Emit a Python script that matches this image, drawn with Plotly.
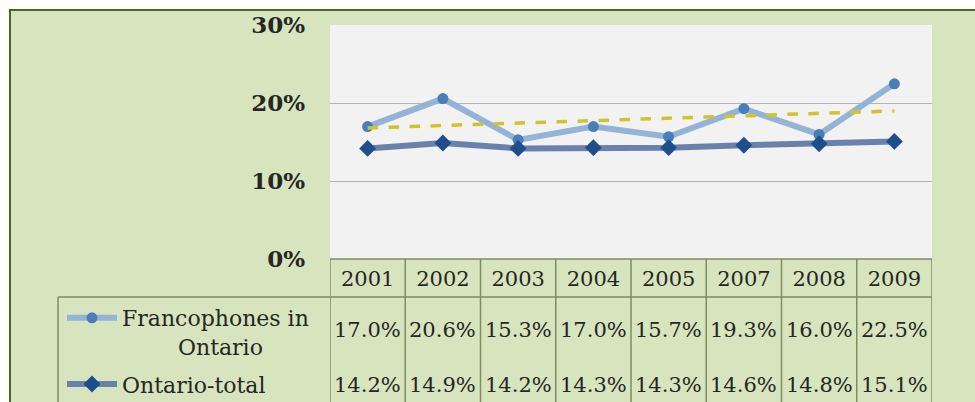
import numpy as np
import plotly.graph_objects as go

years = ["2001", "2002", "2003", "2004", "2005", "2007", "2008", "2009"]
franco = [17.0, 20.6, 15.3, 17.0, 15.7, 19.3, 16.0, 22.5]
ontario = [14.2, 14.9, 14.2, 14.3, 14.3, 14.6, 14.8, 15.1]
y_ticks = [0, 10, 20, 30]
y_labels = [f"{v}%" for v in y_ticks]

W, H = 975, 402
L, R, T, B = 330, 43, 25, 143
pw, ph = W - L - R, H - T - B


def px_x(px):
    # pixel -> paper x
    return (px - L) / pw


def px_y(py):
    # pixel -> paper y
    return (H - B - py) / ph


# Excel-style linear trendline of the Francophones series
idx = np.arange(len(years))
slope, icpt = np.polyfit(idx, franco, 1)
trend = slope * idx + icpt

FONT = "DejaVu Serif"
GRID = "#b4b4b4"
TBL = "#7f8c60"
TXT = "#262626"
NB = "\u00a0"

fig = go.Figure()
fig.add_trace(go.Scatter(
    x=years, y=franco, mode="lines+markers", legendgroup="a",
    name="Francophones in<br>" + NB * 8 + "Ontario",
    line=dict(color="#95b3d7", width=6),
    marker=dict(symbol="circle", size=11, color="#4a7ebb"),
))
fig.add_trace(go.Scatter(
    x=years, y=ontario, mode="lines+markers", name="Ontario-total", legendgroup="b",
    line=dict(color="#6a80ad", width=6),
    marker=dict(symbol="diamond", size=13, color="#1f4e8c"),
))
fig.add_trace(go.Scatter(
    x=years, y=trend, mode="lines", showlegend=False,
    line=dict(color="#d0c42c", width=3.5, dash="dash"),
))

shapes = [
    # green frame with dark border
    dict(type="rect", xref="paper", yref="paper", x0=px_x(10), x1=px_x(990),
         y0=px_y(420), y1=px_y(10), fillcolor="#d7e4bd",
         line=dict(color="#4f6228", width=2), layer="below"),
    # plot area
    dict(type="rect", xref="x domain", yref="y domain", x0=0, x1=1, y0=0, y1=1,
         fillcolor="#f2f2f2", line=dict(width=0), layer="below"),
    # table lines
    dict(type="line", xref="x domain", yref="paper", x0=0, x1=1,
         y0=0, y1=0, line=dict(color=TBL, width=1.5)),
    dict(type="line", xref="paper", yref="paper", x0=px_x(58), x1=1,
         y0=px_y(297), y1=px_y(297), line=dict(color=TBL, width=1.5)),
    dict(type="line", xref="paper", yref="paper", x0=px_x(58), x1=px_x(58),
         y0=px_y(297), y1=px_y(410), line=dict(color=TBL, width=1.5)),
]
for i in range(len(years) + 1):
    shapes.append(dict(type="line", xref="x", yref="paper", x0=i - 0.5, x1=i - 0.5,
                       y0=0, y1=px_y(410), line=dict(color=TBL, width=1.5)))

annotations = []
for i, (a, b) in enumerate(zip(franco, ontario)):
    annotations.append(dict(x=i, y=px_y(330), xref="x", yref="paper", text=f"{a:.1f}%",
                            yanchor="middle", showarrow=False,
                            font=dict(family=FONT, size=21, color=TXT)))
    annotations.append(dict(x=i, y=px_y(385), xref="x", yref="paper", text=f"{b:.1f}%",
                            yanchor="middle", showarrow=False,
                            font=dict(family=FONT, size=21, color=TXT)))

fig.update_layout(
    width=W, height=H, autosize=False,
    margin=dict(l=L, r=R, t=T, b=B, autoexpand=False),
    paper_bgcolor="white", plot_bgcolor="rgba(0,0,0,0)",
    font=dict(family=FONT, color=TXT),
    shapes=shapes, annotations=annotations,
    showlegend=True,
    legend=dict(x=px_x(62), y=px_y(297), xanchor="left", yanchor="top",
                bgcolor="rgba(0,0,0,0)", font=dict(family=FONT, size=22, color=TXT),
                valign="top", itemwidth=50, tracegroupgap=6),
    xaxis=dict(type="category", range=[-0.5, len(years) - 0.5], showgrid=False,
               zeroline=False, showline=False, ticks="",
               tickfont=dict(family=FONT, size=21, color=TXT), ticklabelstandoff=5),
    yaxis=dict(range=[0, 30.05], tickvals=y_ticks, ticktext=y_labels, showgrid=True,
               gridcolor=GRID, gridwidth=1.2, zeroline=False, showline=False,
               tickfont=dict(family=FONT, size=23, color=TXT, weight="bold"),
               ticklabelstandoff=24),
)

fig.write_html("out.html", config={"displayModeBar": False},
               post_script="document.body.style.margin='0';document.body.style.overflow='hidden';")
